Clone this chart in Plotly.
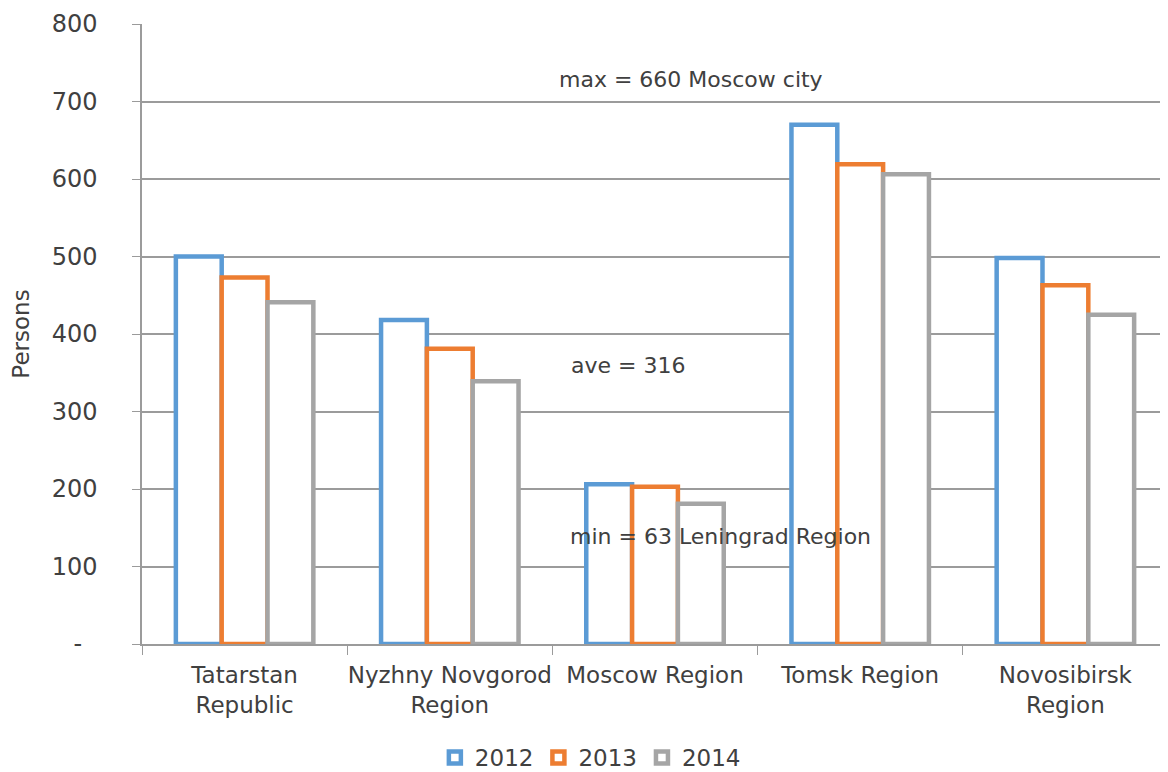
import plotly.graph_objects as go

categories = ["Tatarstan<br>Republic", "Nyzhny Novgorod<br>Region", "Moscow Region", "Tomsk Region", "Novosibirsk<br>Region"]
years = ["2012", "2013", "2014"]
values_2012 = [500, 418, 206, 670, 498]
values_2013 = [473, 381, 203, 619, 463]
values_2014 = [441, 339, 181, 606, 425]
colors = ["#5B9BD5", "#ED7D31", "#A5A5A5"]
tick_values = [0, 100, 200, 300, 400, 500, 600, 700, 800]
tick_labels = ["-\u00a0\u00a0", "100", "200", "300", "400", "500", "600", "700", "800"]

FONT = "DejaVu Sans"
fig = go.Figure()
for name, vals, col in zip(years, [values_2012, values_2013, values_2014], colors):
    fig.add_trace(go.Bar(
        x=categories, y=vals, name=name,
        marker=dict(color="white", line=dict(color=col, width=4.5)),
    ))

# page body has an 8px margin, so the figure is sized to fit 1168x772 window
fig.update_layout(
    width=1160, height=764,
    margin=dict(l=134, r=0, t=16, b=128, autoexpand=False),
    plot_bgcolor="white", paper_bgcolor="white",
    barmode="group", bargap=0.33, bargroupgap=0,
    font=dict(family=FONT, size=22, color="#404040"),
    showlegend=True,
    legend=dict(orientation="h", x=0.437, xanchor="center", y=-0.183, yanchor="middle",
                font=dict(size=23, color="#404040"), itemwidth=30),
)
fig.update_xaxes(
    automargin=False, tickangle=0,
    showline=True, linecolor="#9B9B9B", linewidth=1.5,
    ticks="outside", tickson="boundaries", ticklen=9, tickcolor="#9B9B9B",
    tickfont=dict(size=23, color="#404040"), showgrid=False,
    ticklabelstandoff=10,
)
fig.update_yaxes(
    automargin=False,
    range=[0, 800], tickvals=tick_values, ticktext=tick_labels,
    showline=True, linecolor="#9B9B9B", linewidth=1.5,
    ticks="outside", ticklen=8, tickcolor="#9B9B9B",
    showgrid=True, gridcolor="#9B9B9B", gridwidth=1.5,
    tickfont=dict(size=24, color="#404040"), ticklabelstandoff=30,
    title=dict(text="Persons", font=dict(size=23, color="#404040"), standoff=26),
    zeroline=False,
)
annotations = [
    ("max = 660 Moscow city", 1.522, 729),
    ("ave = 316", 1.58, 360),
    ("min = 63 Leningrad Region", 1.576, 139),
]
for text, x, y in annotations:
    fig.add_annotation(x=x, y=y, xref="x", yref="y", text=text, showarrow=False,
                       xanchor="left", yanchor="middle",
                       font=dict(family=FONT, size=22, color="#404040"))

fig.write_html("out.html")
